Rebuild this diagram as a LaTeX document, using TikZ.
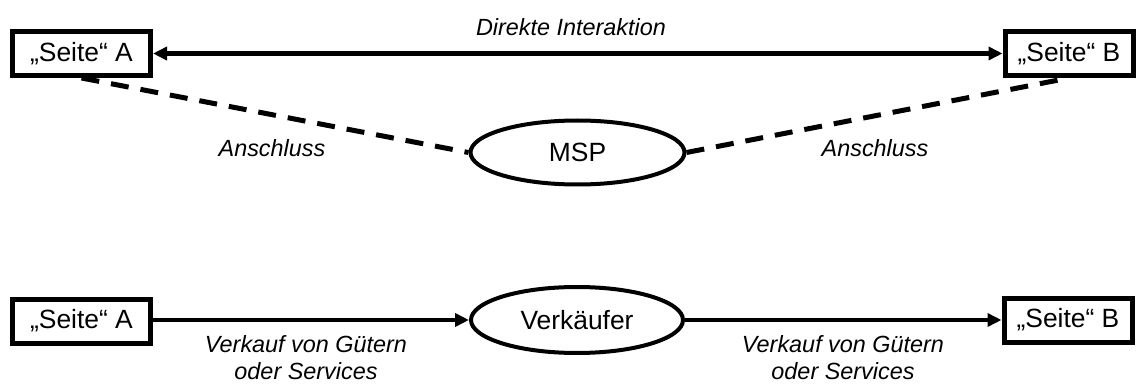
\documentclass[tikz,border=0pt]{standalone}
\usepackage{fontspec}
\setmainfont{Liberation Sans}
\usetikzlibrary{shapes.geometric,arrows.meta}

\begin{document}
\begin{tikzpicture}[x=1pt,y=-1pt,
                   >={Triangle[length=14pt,width=13pt]},
                   seite/.style={draw,line width=5pt,minimum height=44pt,
                   inner sep=2pt,font=\fontsize{26.4}{30}\selectfont},
                   rolle/.style={draw,ellipse,line width=4pt,
                   minimum width=214pt,minimum height=64pt,
                   font=\fontsize{26.4}{30}\selectfont},
                   beschriftung/.style={inner sep=0pt,align=center,
                   font=\fontsize{23.4}{27}\selectfont\itshape},
                   pfeil/.style={line width=4.5pt},
                   anschluss/.style={line width=5pt,dash pattern=on 18pt off 12pt}]
  \useasboundingbox (0,0) rectangle (1136,385);

  % MSP
  \node[seite,minimum width=138pt] (a1) at (81.5,53.5) {„Seite“ A};
  \node[seite,minimum width=128pt] (b1) at (1069,53.5) {„Seite“ B};
  \node[rolle] (msp) at (577.5,152.5) {MSP};
  \draw[pfeil,<->] (a1) -- (b1);
  \draw[anschluss] (a1.south) -- (msp.west);
  \draw[anschluss] (msp.east) -- (b1.south);
  \node[beschriftung] (direkt) at (571,27) {Direkte Interaktion};
  \node[beschriftung] (anschl1) at (272,148) {Anschluss};
  \node[beschriftung] (anschl2) at (875,148) {Anschluss};

  % Verkaeufer
  \node[seite,minimum width=138pt] (a2) at (81.5,321) {„Seite“ A};
  \node[seite,minimum width=128pt] (b2) at (1068,320) {„Seite“ B};
  \node[rolle,minimum width=212pt,minimum height=66pt] (vk) at (577,320) {Verkäufer};
  \draw[pfeil,->] (a2.east |- vk) -- (vk.west);
  \draw[pfeil,->] (vk.east) -- (b2.west |- vk);
  \node[beschriftung] (verk1) at (306,358) {Verkauf von Gütern\\oder Services};
  \node[beschriftung] (verk2) at (843,358) {Verkauf von Gütern\\oder Services};
\end{tikzpicture}
\end{document}
